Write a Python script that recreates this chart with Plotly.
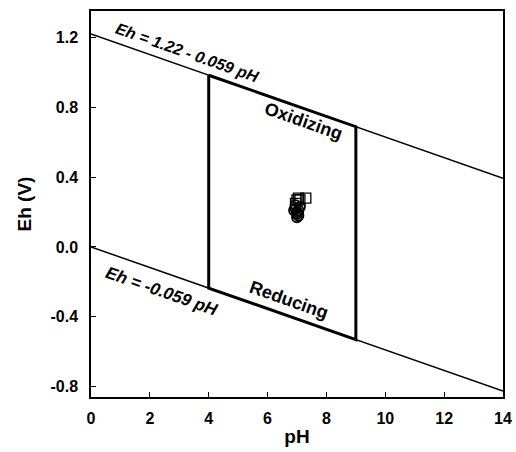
import plotly.graph_objects as go

# Stability lines of water: Eh = a + b*pH
ph_range = [0, 14]
upper_a, upper_b = 1.22, -0.059
lower_a, lower_b = 0.0, -0.059
box_ph = [4, 9]

# Measured points
circle_ph = [6.95, 7.0, 7.05, 6.9, 7.1, 7.0, 6.95, 7.05, 7.0]
circle_eh = [0.22, 0.20, 0.18, 0.21, 0.23, 0.17, 0.24, 0.21, 0.19]
square_ph = [7.0, 7.05, 7.3, 6.95, 7.1]
square_eh = [0.27, 0.28, 0.28, 0.25, 0.27]

x_ticks = [0, 2, 4, 6, 8, 10, 12, 14]
y_ticks = [-0.8, -0.4, 0.0, 0.4, 0.8, 1.2]
y_tick_text = ["-0.8", "-0.4", "0.0", "0.4", "0.8", "1.2"]

def up(p): return upper_a + upper_b * p
def lo(p): return lower_a + lower_b * p

fig = go.Figure()
thin = dict(color="black", width=1.5)
thick = dict(color="black", width=3)
fig.add_trace(go.Scatter(x=ph_range, y=[up(p) for p in ph_range], mode="lines", line=thin))
fig.add_trace(go.Scatter(x=ph_range, y=[lo(p) for p in ph_range], mode="lines", line=thin))
b0, b1 = box_ph
fig.add_trace(go.Scatter(x=[b0, b1, b1, b0, b0], y=[up(b0), up(b1), lo(b1), lo(b0), up(b0)],
                         mode="lines", line=thick))
fig.add_trace(go.Scatter(x=circle_ph, y=circle_eh, mode="markers",
                         marker=dict(symbol="circle-open", size=10, color="black", line=dict(width=1.8))))
fig.add_trace(go.Scatter(x=square_ph, y=square_eh, mode="markers",
                         marker=dict(symbol="square-open", size=10, color="black", line=dict(width=1.3))))

ang = 19.3
def ann(x, y, t, size, italic=False):
    txt = f"<b><i>{t}</i></b>" if italic else f"<b>{t}</b>"
    fig.add_annotation(x=x, y=y, xref="x", yref="y", text=txt, showarrow=False,
                       textangle=ang, font=dict(family="Liberation Sans", size=size, color="black"),
                       xanchor="center", yanchor="middle")

ann(3.26, 1.114, "Eh = 1.22 - 0.059 pH", 16, True)
ann(7.21, 0.72, "Oxidizing", 18)
ann(6.73, -0.302, "Reducing", 18)
ann(2.41, -0.257, "Eh = -0.059 pH", 17, True)

axis_common = dict(showline=True, linecolor="black", linewidth=1.5, mirror=True,
                   ticks="inside", ticklen=5, tickcolor="black", showgrid=False, zeroline=False,
                   automargin=False,
                   tickfont=dict(family="Liberation Sans", size=16, color="black"))
fig.update_xaxes(range=[0, 14], tickvals=x_ticks, ticktext=[f"<b>{v}</b>" for v in x_ticks],
                 ticklabelstandoff=6,
                 title=dict(text="<b>pH</b>", font=dict(family="Liberation Sans", size=19, color="black"), standoff=4),
                 **axis_common)
fig.update_yaxes(range=[-0.86, 1.352], tickvals=y_ticks, ticktext=[f"<b>{t}</b>" for t in y_tick_text],
                 ticklabelstandoff=8,
                 title=dict(text="<b>Eh (V)</b>", font=dict(family="Liberation Sans", size=19, color="black"), standoff=14),
                 **axis_common)
fig.update_layout(width=516, height=452, margin=dict(l=91, r=13, t=11, b=55),
                  plot_bgcolor="white", paper_bgcolor="white", showlegend=False)
fig.write_html("out.html", config={"displayModeBar": False},
               post_script="document.body.style.margin='0';")
